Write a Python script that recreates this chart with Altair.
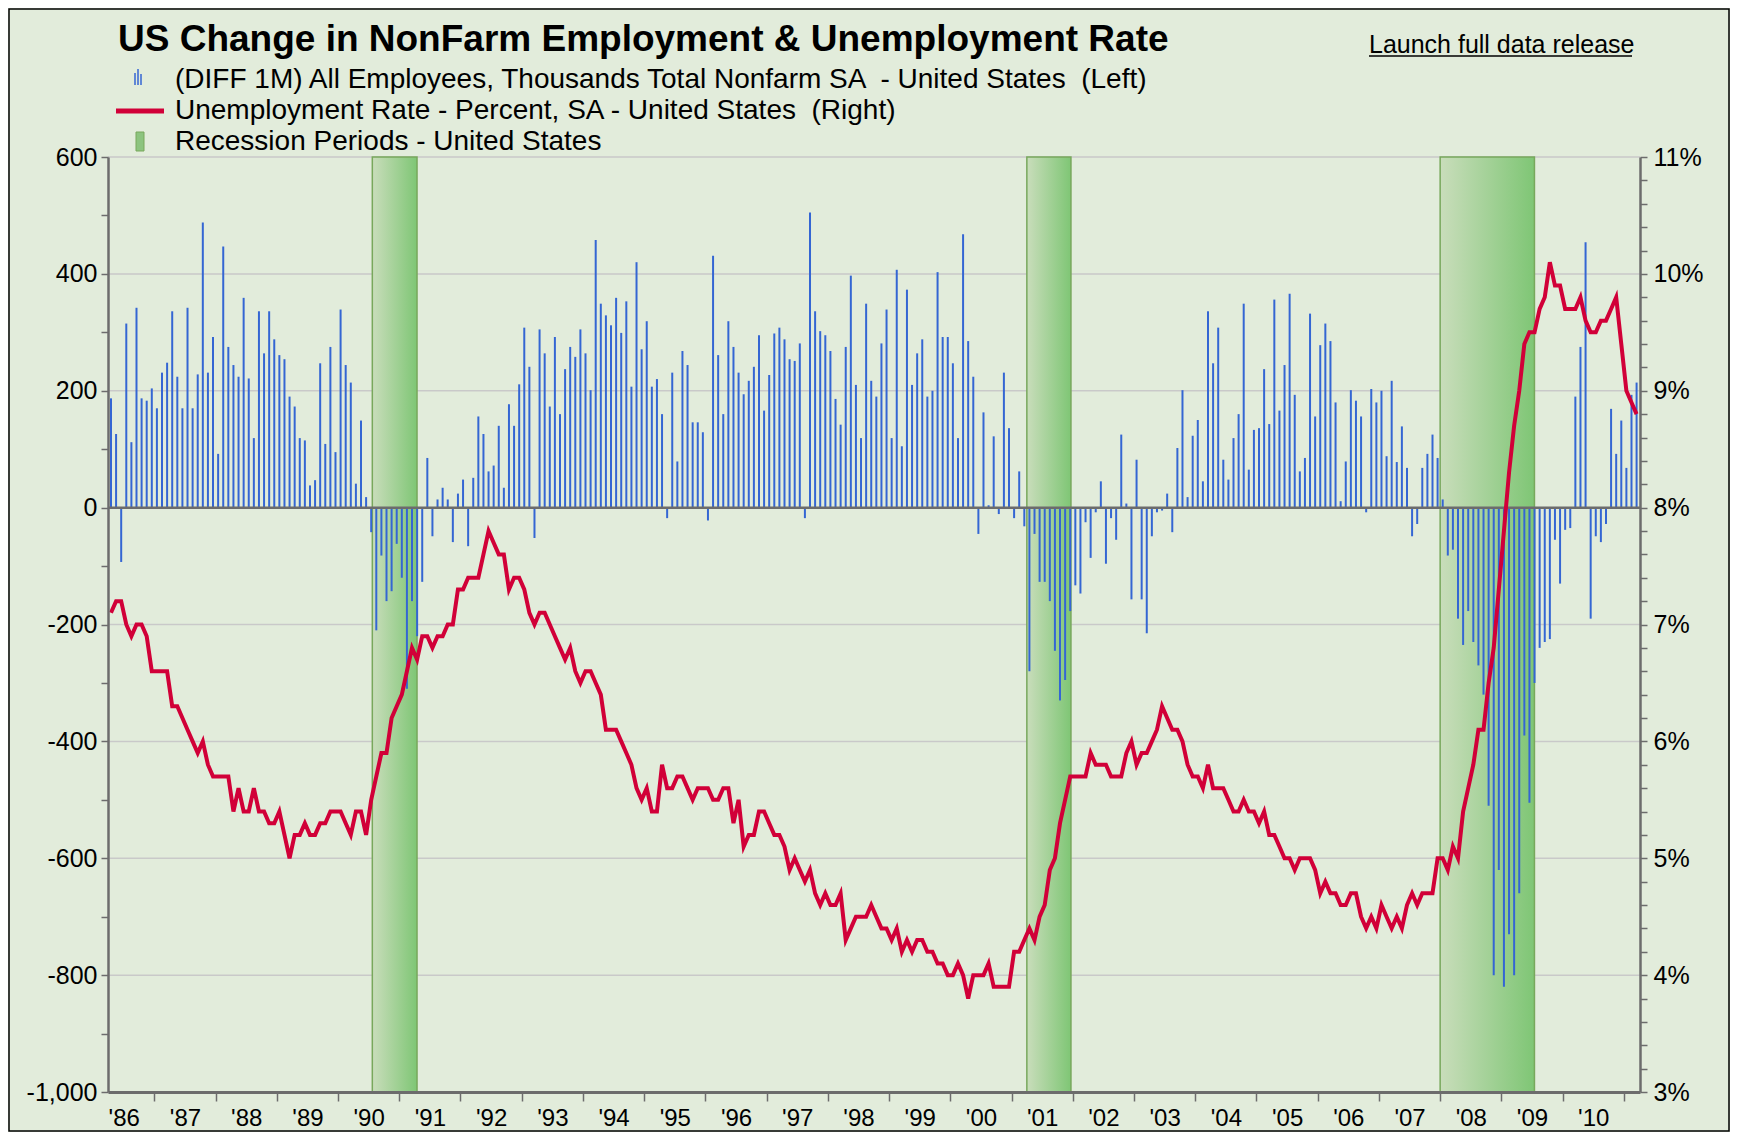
import altair as alt
import pandas as pd

# ---------------- data (monthly, April 1986 .. March 2011) ----------------
START_YEAR, START_MONTH = 1986, 4

# Monthly change in nonfarm payrolls, thousands
payroll_1986 = [187, 126, -93, 315, 112, 342, 187, 183, 204]
payroll_1987 = [170, 231, 248, 336, 224, 170, 342, 170, 228, 488, 231, 292]
payroll_1988 = [92, 447, 275, 244, 224, 359, 221, 119, 336, 264, 336, 288]
payroll_1989 = [261, 254, 190, 173, 119, 115, 38, 47, 247, 109, 275, 95]
payroll_1990 = [339, 244, 214, 41, 149, 18, -42, -210, -82, -160, -143, -62]
payroll_1991 = [-120, -310, -160, -220, -127, 85, -49, 14, 34, 14, -59, 24]
payroll_1992 = [48, -66, 51, 156, 126, 62, 72, 140, 34, 177, 140, 211]
payroll_1993 = [308, 241, -52, 305, 264, 173, 292, 160, 237, 275, 258, 305]
payroll_1994 = [264, 201, 458, 349, 329, 312, 359, 299, 353, 207, 420, 271]
payroll_1995 = [319, 207, 220, 160, -18, 231, 79, 268, 244, 146, 146, 129]
payroll_1996 = [-22, 431, 261, 160, 319, 275, 231, 194, 217, 241, 295, 166]
payroll_1997 = [227, 298, 308, 288, 254, 251, 281, -18, 505, 336, 302, 295]
payroll_1998 = [268, 186, 142, 275, 397, 210, 119, 349, 217, 190, 281, 339]
payroll_1999 = [119, 407, 105, 373, 210, 264, 288, 190, 200, 403, 292, 292]
payroll_2000 = [247, 119, 468, 285, 224, -45, 163, 4, 122, -11, 231, 136]
payroll_2001 = [-18, 62, -32, -280, -45, -127, -127, -160, -245, -330, -295, -177]
payroll_2002 = [-133, -147, -25, -86, -8, 45, -96, -18, -55, 125, 7, -157]
payroll_2003 = [82, -157, -215, -49, -8, -5, 24, -42, 102, 201, 18, 123]
payroll_2004 = [150, 45, 336, 247, 308, 82, 48, 119, 160, 349, 65, 133]
payroll_2005 = [136, 237, 143, 356, 166, 244, 366, 193, 62, 85, 332, 156]
payroll_2006 = [278, 315, 285, 180, 11, 79, 201, 183, 156, -8, 203, 180]
payroll_2007 = [200, 88, 217, 78, 139, 68, -49, -28, 68, 92, 125, 85]
payroll_2008 = [14, -82, -72, -190, -235, -177, -230, -270, -320, -510, -800, -620]
payroll_2009 = [-820, -730, -800, -660, -390, -505, -300, -240, -230, -225, -55, -130]
payroll_2010 = [-38, -35, 190, 275, 454, -190, -49, -59, -28, 169, 92, 149]
payroll_2011 = [68, 193, 214]

# Unemployment rate, percent
unrate_1986 = [7.1, 7.2, 7.2, 7.0, 6.9, 7.0, 7.0, 6.9, 6.6]
unrate_1987 = [6.6, 6.6, 6.6, 6.3, 6.3, 6.2, 6.1, 6.0, 5.9, 6.0, 5.8, 5.7]
unrate_1988 = [5.7, 5.7, 5.7, 5.4, 5.6, 5.4, 5.4, 5.6, 5.4, 5.4, 5.3, 5.3]
unrate_1989 = [5.4, 5.2, 5.0, 5.2, 5.2, 5.3, 5.2, 5.2, 5.3, 5.3, 5.4, 5.4]
unrate_1990 = [5.4, 5.3, 5.2, 5.4, 5.4, 5.2, 5.5, 5.7, 5.9, 5.9, 6.2, 6.3]
unrate_1991 = [6.4, 6.6, 6.8, 6.7, 6.9, 6.9, 6.8, 6.9, 6.9, 7.0, 7.0, 7.3]
unrate_1992 = [7.3, 7.4, 7.4, 7.4, 7.6, 7.8, 7.7, 7.6, 7.6, 7.3, 7.4, 7.4]
unrate_1993 = [7.3, 7.1, 7.0, 7.1, 7.1, 7.0, 6.9, 6.8, 6.7, 6.8, 6.6, 6.5]
unrate_1994 = [6.6, 6.6, 6.5, 6.4, 6.1, 6.1, 6.1, 6.0, 5.9, 5.8, 5.6, 5.5]
unrate_1995 = [5.6, 5.4, 5.4, 5.8, 5.6, 5.6, 5.7, 5.7, 5.6, 5.5, 5.6, 5.6]
unrate_1996 = [5.6, 5.5, 5.5, 5.6, 5.6, 5.3, 5.5, 5.1, 5.2, 5.2, 5.4, 5.4]
unrate_1997 = [5.3, 5.2, 5.2, 5.1, 4.9, 5.0, 4.9, 4.8, 4.9, 4.7, 4.6, 4.7]
unrate_1998 = [4.6, 4.6, 4.7, 4.3, 4.4, 4.5, 4.5, 4.5, 4.6, 4.5, 4.4, 4.4]
unrate_1999 = [4.3, 4.4, 4.2, 4.3, 4.2, 4.3, 4.3, 4.2, 4.2, 4.1, 4.1, 4.0]
unrate_2000 = [4.0, 4.1, 4.0, 3.8, 4.0, 4.0, 4.0, 4.1, 3.9, 3.9, 3.9, 3.9]
unrate_2001 = [4.2, 4.2, 4.3, 4.4, 4.3, 4.5, 4.6, 4.9, 5.0, 5.3, 5.5, 5.7]
unrate_2002 = [5.7, 5.7, 5.7, 5.9, 5.8, 5.8, 5.8, 5.7, 5.7, 5.7, 5.9, 6.0]
unrate_2003 = [5.8, 5.9, 5.9, 6.0, 6.1, 6.3, 6.2, 6.1, 6.1, 6.0, 5.8, 5.7]
unrate_2004 = [5.7, 5.6, 5.8, 5.6, 5.6, 5.6, 5.5, 5.4, 5.4, 5.5, 5.4, 5.4]
unrate_2005 = [5.3, 5.4, 5.2, 5.2, 5.1, 5.0, 5.0, 4.9, 5.0, 5.0, 5.0, 4.9]
unrate_2006 = [4.7, 4.8, 4.7, 4.7, 4.6, 4.6, 4.7, 4.7, 4.5, 4.4, 4.5, 4.4]
unrate_2007 = [4.6, 4.5, 4.4, 4.5, 4.4, 4.6, 4.7, 4.6, 4.7, 4.7, 4.7, 5.0]
unrate_2008 = [5.0, 4.9, 5.1, 5.0, 5.4, 5.6, 5.8, 6.1, 6.1, 6.5, 6.8, 7.3]
unrate_2009 = [7.8, 8.3, 8.7, 9.0, 9.4, 9.5, 9.5, 9.7, 9.8, 10.1, 9.9, 9.9]
unrate_2010 = [9.7, 9.7, 9.7, 9.8, 9.6, 9.5, 9.5, 9.6, 9.6, 9.7, 9.8, 9.4]
unrate_2011 = [9.0, 8.9, 8.8]

# Recession periods (fractional years)
recession_start = [1990.56, 2001.25, 2008.0]
recession_end = [1991.29, 2001.97, 2009.54]

# Axis ticks / labels
left_ticks = list(range(-1000, 601, 100))
right_ticks = [round(3 + 0.2 * k, 1) for k in range(41)]
year_ticks = list(range(1987, 2012))
grid_values = [-800, -600, -400, -200, 200, 400, 600]

NB = "\u00a0"
TITLE = "US Change in NonFarm Employment & Unemployment Rate"
LEGEND_1 = "(DIFF 1M) All Employees, Thousands Total Nonfarm SA " + NB + "- United States " + NB + "(Left)"
LEGEND_2 = "Unemployment Rate - Percent, SA - United States " + NB + "(Right)"
LEGEND_3 = "Recession Periods - United States"
LINK = "Launch full data release"

payroll = (payroll_1986 + payroll_1987 + payroll_1988 + payroll_1989 + payroll_1990
           + payroll_1991 + payroll_1992 + payroll_1993 + payroll_1994 + payroll_1995
           + payroll_1996 + payroll_1997 + payroll_1998 + payroll_1999 + payroll_2000
           + payroll_2001 + payroll_2002 + payroll_2003 + payroll_2004 + payroll_2005
           + payroll_2006 + payroll_2007 + payroll_2008 + payroll_2009 + payroll_2010
           + payroll_2011)
unrate = (unrate_1986 + unrate_1987 + unrate_1988 + unrate_1989 + unrate_1990
          + unrate_1991 + unrate_1992 + unrate_1993 + unrate_1994 + unrate_1995
          + unrate_1996 + unrate_1997 + unrate_1998 + unrate_1999 + unrate_2000
          + unrate_2001 + unrate_2002 + unrate_2003 + unrate_2004 + unrate_2005
          + unrate_2006 + unrate_2007 + unrate_2008 + unrate_2009 + unrate_2010
          + unrate_2011)

n = len(payroll)
t = [START_YEAR + (START_MONTH - 1 + i + 0.5) / 12 for i in range(n)]
df = pd.DataFrame({"t": t, "payroll": payroll, "unrate": unrate, "zero": [0] * n})
rec_df = pd.DataFrame({"start": recession_start, "end": recession_end})
grid_df = pd.DataFrame({"g": grid_values})
one = pd.DataFrame({"a": [0]})

# ---------------- styling ----------------
FONT = "Liberation Sans"
BG = "#e2ecdb"
AXIS_COL = "#6c6c6c"
W, H = 1532, 935

X = alt.Scale(domain=[1986.243, 2011.264], nice=False, zero=False)
YL = alt.Scale(domain=[-1000, 600], nice=False, zero=False)
YR = alt.Scale(domain=[3, 11], nice=False, zero=False)

x_axis = alt.Axis(
    values=year_ticks, orient="bottom", grid=False, title=None,
    labelExpr="\"'\" + format((datum.value - 1) % 100, '02d')",
    labelOffset=-30.6, labelFlush=False, labelOverlap=False, labelBound=False,
    labelFont=FONT, labelFontSize=24, labelColor="black", labelPadding=5,
    tickSize=9, tickColor=AXIS_COL, tickWidth=1.5,
    domainColor=AXIS_COL, domainWidth=3, zindex=1,
)
left_axis = alt.Axis(
    values=left_ticks, orient="left", grid=False, title=None,
    labelExpr="datum.value % 200 == 0 ? (datum.value < 0 ? '-' : '') + format(abs(datum.value), ',') : ''",
    labelFont=FONT, labelFontSize=25, labelColor="black", labelPadding=4,
    labelOverlap=False, labelBound=False,
    tickSize=7, tickColor=AXIS_COL, tickWidth=1.5,
    domainColor=AXIS_COL, domainWidth=2.5, zindex=1,
)
right_axis = alt.Axis(
    values=right_ticks, orient="right", grid=False, title=None,
    labelExpr="abs(datum.value - round(datum.value)) < 0.001 ? toString(round(datum.value)) + '%' : ''",
    labelFont=FONT, labelFontSize=25, labelColor="black", labelPadding=6,
    labelOverlap=False, labelBound=False,
    tickSize=7, tickColor=AXIS_COL, tickWidth=1.5,
    domainColor=AXIS_COL, domainWidth=2.5, zindex=1,
)

grid = alt.Chart(grid_df).mark_rule(color="#c9c9c9", strokeWidth=1.5).encode(
    y=alt.Y("g:Q", scale=YL, axis=None)
)

green_grad = alt.Gradient(
    gradient="linear",
    stops=[alt.GradientStop(color="#c9ddbb", offset=0),
           alt.GradientStop(color="#7fc675", offset=1)],
    x1=0, x2=1, y1=0, y2=0,
)
recessions = alt.Chart(rec_df).mark_rect(
    fill=green_grad, stroke="#78a85c", strokeWidth=1.5
).encode(
    x=alt.X("start:Q", scale=X, axis=x_axis),
    x2="end:Q",
)

bars = alt.Chart(df).mark_rule(color="#3466d3", strokeWidth=2).encode(
    x=alt.X("t:Q", scale=X, axis=x_axis),
    y=alt.Y("payroll:Q", scale=YL, axis=left_axis),
    y2="zero:Q",
)

zero_line = alt.Chart(one).mark_rule(color=AXIS_COL, strokeWidth=2.5).encode(
    y=alt.Y("a:Q", scale=YL, axis=None)
)

line = alt.Chart(df).mark_line(color="#d10038", strokeWidth=4, strokeJoin="miter").encode(
    x=alt.X("t:Q", scale=X, axis=x_axis),
    y=alt.Y("unrate:Q", scale=YR, axis=right_axis),
)

# ---------- title, legend, link (positions in plot pixels) ----------
def txt(s, x, y, size, bold=False, align="left"):
    return alt.Chart(one).mark_text(
        align=align, baseline="middle", font=FONT, fontSize=size,
        fontWeight="bold" if bold else "normal", color="black",
    ).encode(x=alt.value(x), y=alt.value(y), text=alt.value(s))

title = txt(TITLE, 10, -117, 37, bold=True)
leg1 = txt(LEGEND_1, 67, -77, 28)
leg2 = txt(LEGEND_2, 67, -46, 28)
leg3 = txt(LEGEND_3, 67, -15, 28)
link = txt(LINK, 1261, -112, 25)
link_ul = alt.Chart(one).mark_rule(color="black", strokeWidth=1.5).encode(
    x=alt.value(1261), x2=alt.value(1524), y=alt.value(-101), y2=alt.value(-101)
)

icon_bar1 = alt.Chart(one).mark_rule(color="#3466d3", strokeWidth=1.5).encode(
    x=alt.value(27), y=alt.value(-84), y2=alt.value(-72))
icon_bar2 = alt.Chart(one).mark_rule(color="#3466d3", strokeWidth=1.5).encode(
    x=alt.value(30), y=alt.value(-88), y2=alt.value(-72))
icon_bar3 = alt.Chart(one).mark_rule(color="#3466d3", strokeWidth=1.5).encode(
    x=alt.value(33), y=alt.value(-83), y2=alt.value(-72))
icon_line = alt.Chart(one).mark_rule(color="#d10038", strokeWidth=5).encode(
    x=alt.value(8), x2=alt.value(56), y=alt.value(-46), y2=alt.value(-46))
icon_rec = alt.Chart(one).mark_rect(fill="#8cc47f", stroke="#78a85c", strokeWidth=1).encode(
    x=alt.value(28), x2=alt.value(36), y=alt.value(-25), y2=alt.value(-6))

border = alt.Chart(one).mark_rect(fillOpacity=0, stroke="black", strokeWidth=1.5).encode(
    x=alt.value(-99), x2=alt.value(1621), y=alt.value(-148), y2=alt.value(974))

chart = alt.layer(
    grid, recessions, bars, zero_line, line,
    title, leg1, leg2, leg3, link, link_ul,
    icon_bar1, icon_bar2, icon_bar3, icon_line, icon_rec, border,
).resolve_scale(y="independent").properties(
    width=W, height=H,
    padding={"left": 100, "top": 149, "right": 90, "bottom": 40},
    autosize=alt.AutoSizeParams(type="none"),
    background=BG,
).configure_view(stroke=None)

chart.save("out.html", embed_options={"renderer": "svg", "actions": False})
